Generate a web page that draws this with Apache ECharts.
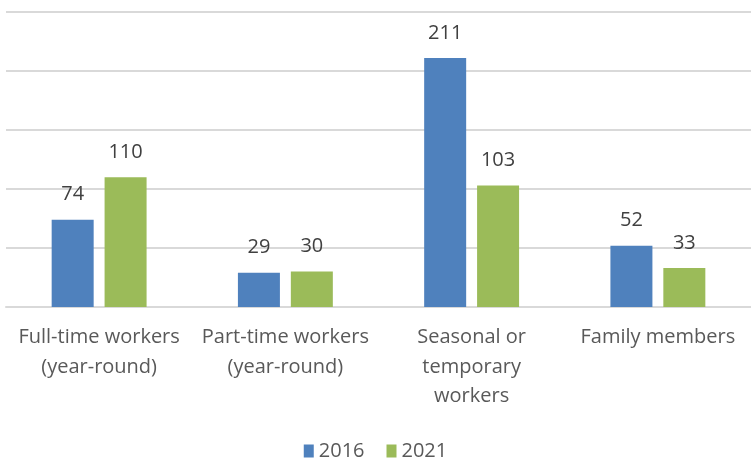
<!DOCTYPE html>
<html>
<head>
<meta charset="utf-8">
<script src="https://cdn.jsdelivr.net/npm/echarts@6/dist/echarts.min.js"></script>
<style>
  html, body { margin: 0; padding: 0; background: #fff; }
  #chart { width: 751px; height: 459px; }
</style>
</head>
<body>
<div id="chart"></div>
<script>
const categories = [
  'Full-time workers\n(year-round)',
  'Part-time workers\n(year-round)',
  'Seasonal or\ntemporary\nworkers',
  'Family members'
]
const values2016 = [74, 29, 211, 52]
const values2021 = [110, 30, 103, 33]

const chart = echarts.init(document.getElementById('chart'))
const labelStyle = {
  show: true,
  position: 'top',
  distance: 15,
  color: '#404040',
  fontSize: 20,
  fontFamily: 'Open Sans'
}
chart.setOption({
  animation: false,
  color: ['#4f81bd', '#9bbb59'],
  grid: { left: 6, top: 12, width: 748, height: 295, containLabel: false },
  legend: {
    bottom: -7,
    left: 'center',
    itemWidth: 10,
    itemHeight: 13,
    itemGap: 22,
    icon: 'rect',
    textStyle: { color: '#595959', fontSize: 20, fontFamily: 'Open Sans' },
    data: ['2016', '2021']
  },
  xAxis: {
    type: 'category',
    data: categories,
    axisLine: { show: true, lineStyle: { color: '#d9d9d9', width: 2 } },
    axisTick: { show: false },
    axisLabel: {
      color: '#595959',
      fontSize: 20,
      fontFamily: 'Open Sans',
      lineHeight: 29.5,
      margin: 16,
      interval: 0
    }
  },
  yAxis: {
    type: 'value',
    min: 0,
    max: 250,
    interval: 50,
    axisLabel: { show: false },
    axisLine: { show: false },
    axisTick: { show: false },
    splitLine: { lineStyle: { color: '#d9d9d9', width: 2 } }
  },
  series: [
    {
      name: '2016',
      type: 'bar',
      data: values2016,
      barWidth: 42,
      barGap: '26%',
      label: labelStyle
    },
    {
      name: '2021',
      type: 'bar',
      data: values2021,
      barWidth: 42,
      label: labelStyle
    }
  ]
})
</script>
</body>
</html>
